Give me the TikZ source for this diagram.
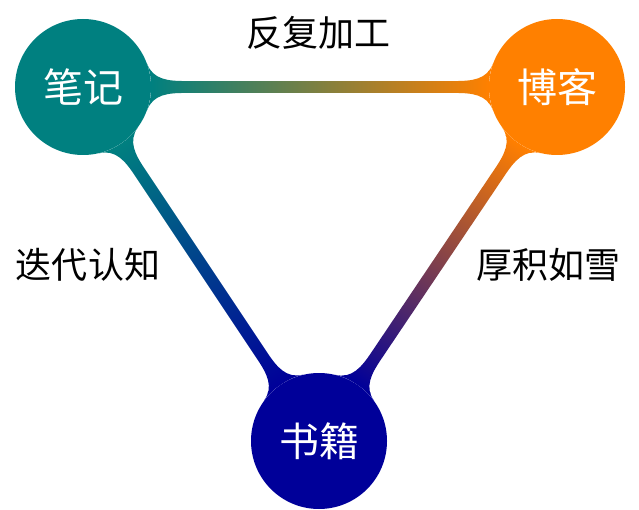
\documentclass[tikz,border=0pt]{standalone}
\usepackage{fontspec}
\newfontfamily\cjk{Noto Sans CJK SC}
\usetikzlibrary{mindmap}
\colorlet{notecolor}{teal}
\colorlet{blogcolor}{orange}
\colorlet{bookcolor}{blue!60!black}
\begin{document}
\begin{tikzpicture}[x=1pt, y=1pt,
    topic/.style={circle, fill=#1, minimum size=136pt, inner sep=0pt, text=white,
        font=\cjk\fontsize{40}{44}\selectfont},
    caption/.style={font=\cjk\fontsize{36}{40}\selectfont}]
    \useasboundingbox (0,0) rectangle (639,-510);

    % Topics
    \node[topic=notecolor] (note) at (83,-87) {笔记};
    \node[topic=blogcolor] (blog) at (557,-87) {博客};
    \node[topic=bookcolor] (book) at (319,-441) {书籍};

    % Bars
    \path[line width=12pt] (note) to[circle connection bar switch color=from (notecolor) to (blogcolor)] (blog);
    \path[line width=12pt] (note) to[circle connection bar switch color=from (notecolor) to (bookcolor)] (book);
    \path[line width=12pt] (blog) to[circle connection bar switch color=from (blogcolor) to (bookcolor)] (book);

    % Captions
    \node[caption] (refine) at (318,-33) {反复加工};
    \node[caption] (iterate) at (88,-265) {迭代认知};
    \node[caption] (accumulate) at (548,-265) {厚积如雪};
\end{tikzpicture}
\end{document}
